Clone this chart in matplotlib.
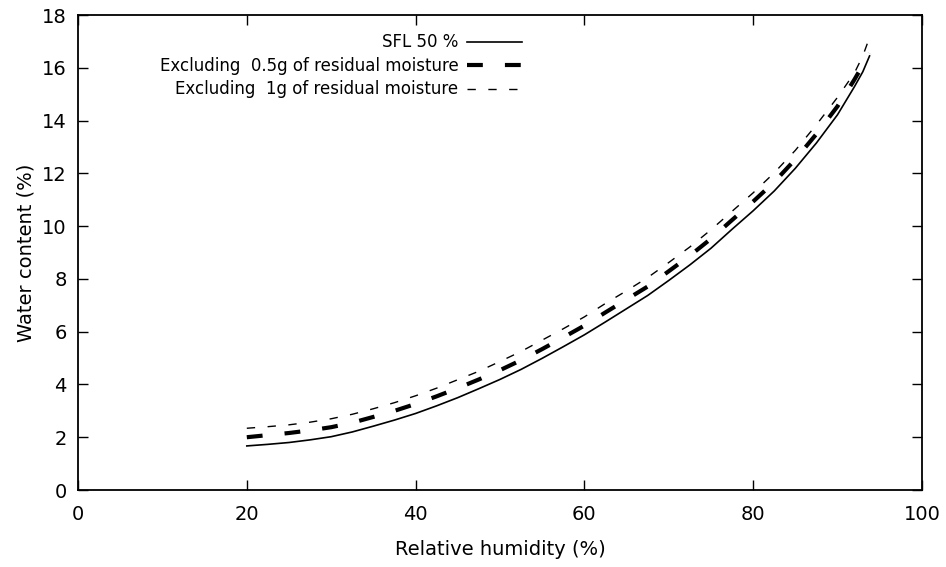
import matplotlib
matplotlib.use('Agg')
import matplotlib.pyplot as plt

matplotlib.rc('font', size=14, family='DejaVu Sans')

rh = [20, 22.5, 25, 27.5, 30, 32.5, 35, 37.5, 40, 42.5, 45, 47.5, 50, 52.5,
      55, 57.5, 60, 62.5, 65, 67.5, 70, 72.5, 75, 77.5, 80, 82.5, 85, 87.5,
      90, 92, 93, 93.8]
sfl50 = [1.67, 1.73, 1.80, 1.90, 2.02, 2.20, 2.42, 2.65, 2.90, 3.19, 3.50,
         3.84, 4.19, 4.57, 4.99, 5.43, 5.88, 6.37, 6.87, 7.37, 7.94, 8.53,
         9.16, 9.88, 10.58, 11.33, 12.19, 13.15, 14.22, 15.28, 15.85, 16.45]
excl_05g = [2.00, 2.08, 2.16, 2.26, 2.38, 2.55, 2.77, 3.00, 3.26, 3.55, 3.86,
            4.19, 4.54, 4.92, 5.34, 5.78, 6.23, 6.73, 7.22, 7.71, 8.29, 8.88,
            9.52, 10.23, 10.93, 11.67, 12.53, 13.49, 14.54, 15.55, 16.10, 16.55]
excl_1g = [2.34, 2.40, 2.47, 2.57, 2.70, 2.87, 3.08, 3.31, 3.57, 3.86, 4.18,
           4.50, 4.87, 5.25, 5.68, 6.11, 6.56, 7.07, 7.55, 8.05, 8.62, 9.21,
           9.86, 10.56, 11.26, 12.02, 12.87, 13.84, 14.88, 15.80, 16.45, 17.15]

labels = ['SFL 50 %',
          'Excluding  0.5g of residual moisture',
          'Excluding  1g of residual moisture']

fig = plt.figure(figsize=(9.46, 5.67), dpi=100)
ax = fig.add_axes([0.0825, 0.1358, 0.892, 0.8377])

ax.plot(rh, sfl50, color='black', lw=1.2, label=labels[0])
ax.plot(rh, excl_05g, color='black', lw=3, dashes=(3.8, 5.3), label=labels[1])
ax.plot(rh, excl_1g, color='black', lw=1, dashes=(6, 9), label=labels[2])

ax.set_xlim(0, 100)
ax.set_ylim(0, 18)
ax.set_xticks(range(0, 101, 20))
ax.set_yticks(range(0, 19, 2))
ax.tick_params(direction='in', length=7, width=1, top=True, right=True)
ax.tick_params(axis='x', pad=11)
ax.tick_params(axis='y', pad=8)
for s in ax.spines.values():
    s.set_linewidth(1.3)

ax.set_xlabel('Relative humidity (%)', labelpad=11)
ax.set_ylabel('Water content (%)', labelpad=5)

ax.legend(loc='upper right', bbox_to_anchor=(530 / 946, 1 - 25 / 567),
          bbox_transform=fig.transFigure, frameon=False, markerfirst=False,
          handlelength=3.3, borderpad=0, labelspacing=0.33, handletextpad=0.5,
          fontsize=12)

plt.savefig('out.png')
